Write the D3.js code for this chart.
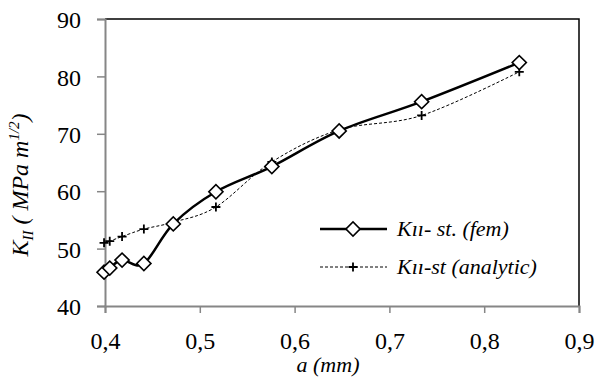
<!DOCTYPE html>
<html>
<head>
<meta charset="utf-8">
<script src="https://cdn.jsdelivr.net/npm/d3@7"></script>
<style>
  body { margin: 0; background: #fff; }
  svg text { font-family: "Liberation Serif", Tinos, "DejaVu Serif", "Times New Roman", Times, serif !important; fill: #000; }
</style>
</head>
<body>
<div class="chart"></div>
<script>
let FRAME_WIDTH = 596;
let FRAME_HEIGHT = 381;
let MARGINS = {left: 105, right: 17, top: 19, bottom: 75};

// data
let crackLength = [0.399, 0.405, 0.418, 0.441, 0.472, 0.517, 0.576, 0.647, 0.734, 0.837];
let kFem = [45.9, 46.6, 48.0, 47.4, 54.3, 59.9, 64.3, 70.5, 75.6, 82.4];
let kAnalytic = [51.0, 51.3, 52.1, 53.4, 54.6, 57.25, 65.1, 70.7, 73.2, 80.8];
let xTicks = [0.4, 0.5, 0.6, 0.7, 0.8, 0.9];
let yTicks = [40, 50, 60, 70, 80, 90];

let PLOT_WIDTH = FRAME_WIDTH - MARGINS.left - MARGINS.right;
let PLOT_HEIGHT = FRAME_HEIGHT - MARGINS.top - MARGINS.bottom;

let FRAME = d3.select(".chart")
              .append("svg")
              .attr("width", FRAME_WIDTH)
              .attr("height", FRAME_HEIGHT);

const X_SCALE = d3.scaleLinear().domain([0.4, 0.9]).range([0, PLOT_WIDTH]);
const Y_SCALE = d3.scaleLinear().domain([40, 90]).range([PLOT_HEIGHT, 0]);

let plot = FRAME.append("g")
                .attr("transform", "translate(" + MARGINS.left + "," + MARGINS.top + ")");

// top and right border of plot area
plot.append("path")
    .attr("d", "M0,0H" + PLOT_WIDTH + "V" + PLOT_HEIGHT)
    .attr("fill", "none")
    .attr("stroke", "#000")
    .attr("stroke-width", 1.5);

// axes
let fmt = d3.format(".1f");
let xAxis = plot.append("g")
    .attr("transform", "translate(0," + PLOT_HEIGHT + ")")
    .call(d3.axisBottom(X_SCALE).tickValues(xTicks).tickSizeOuter(0).tickSize(7).tickPadding(19)
          .tickFormat(d => fmt(d).replace(".", ",")));
let yAxis = plot.append("g")
    .call(d3.axisLeft(Y_SCALE).tickValues(yTicks).tickSizeOuter(0).tickSize(8).tickPadding(16));

[xAxis, yAxis].forEach(ax => {
  ax.attr("font-family", null);
  ax.select(".domain").attr("stroke", "#868686").attr("stroke-width", 2);
  ax.selectAll(".tick line").attr("stroke", "#868686").attr("stroke-width", 1.5);
  ax.selectAll(".tick text").attr("font-size", 24).attr("fill", "#000");
});
yAxis.selectAll(".tick text").attr("dy", "0.36em");

let idx = d3.range(crackLength.length);
let curve = d3.curveCardinal.tension(0);

let lineFem = d3.line().curve(curve)
    .x(i => X_SCALE(crackLength[i])).y(i => Y_SCALE(kFem[i]));
let lineAn = d3.line().curve(curve)
    .x(i => X_SCALE(crackLength[i])).y(i => Y_SCALE(kAnalytic[i]));

plot.append("path").attr("d", lineAn(idx))
    .attr("fill", "none").attr("stroke", "#000").attr("stroke-width", 1)
    .attr("stroke-dasharray", "3,2");

plot.append("path").attr("d", lineFem(idx))
    .attr("fill", "none").attr("stroke", "#000").attr("stroke-width", 2.5);

function plus(g, x, y) {
  g.append("path")
   .attr("d", "M" + (x - 4.5) + "," + y + "h9M" + x + "," + (y - 4.5) + "v9")
   .attr("stroke", "#000").attr("stroke-width", 1.8);
}
function diamond(g, x, y) {
  g.append("rect")
   .attr("x", -5).attr("y", -5).attr("width", 10).attr("height", 10)
   .attr("transform", "translate(" + x + "," + y + ") rotate(45)")
   .attr("fill", "#fff").attr("stroke", "#000").attr("stroke-width", 1.6);
}

idx.forEach(i => plus(plot, X_SCALE(crackLength[i]), Y_SCALE(kAnalytic[i])));
idx.forEach(i => diamond(plot, X_SCALE(crackLength[i]), Y_SCALE(kFem[i])));

// legend
let legend = FRAME.append("g");
legend.append("line").attr("x1", 320).attr("x2", 387).attr("y1", 229).attr("y2", 229)
      .attr("stroke", "#000").attr("stroke-width", 2.5);
diamond(legend, 353, 229);
legend.append("line").attr("x1", 320).attr("x2", 387).attr("y1", 267).attr("y2", 267)
      .attr("stroke", "#000").attr("stroke-width", 1).attr("stroke-dasharray", "3,2");
plus(legend, 353, 267);
legend.append("text").attr("x", 397).attr("y", 236).attr("font-size", 22)
      .attr("font-style", "italic").text("Kıı- st. (fem)");
legend.append("text").attr("x", 397).attr("y", 274).attr("font-size", 22)
      .attr("font-style", "italic").text("Kıı-st (analytic)");

// axis titles
FRAME.append("text").attr("x", 328).attr("y", 372).attr("text-anchor", "middle")
     .attr("font-size", 22).attr("font-style", "italic").text("a (mm)");

let yt = FRAME.append("text")
     .attr("transform", "translate(28,185) rotate(-90)")
     .attr("text-anchor", "middle").attr("font-size", 24).attr("font-style", "italic");
yt.append("tspan").text("K");
yt.append("tspan").attr("font-size", 15).attr("dy", 5).text("II");
yt.append("tspan").attr("dy", -5).text(" ( MPa m");
yt.append("tspan").attr("font-size", 15).attr("dy", -9).text("1/2");
yt.append("tspan").attr("dy", 9).text(")");
</script>
</body>
</html>
